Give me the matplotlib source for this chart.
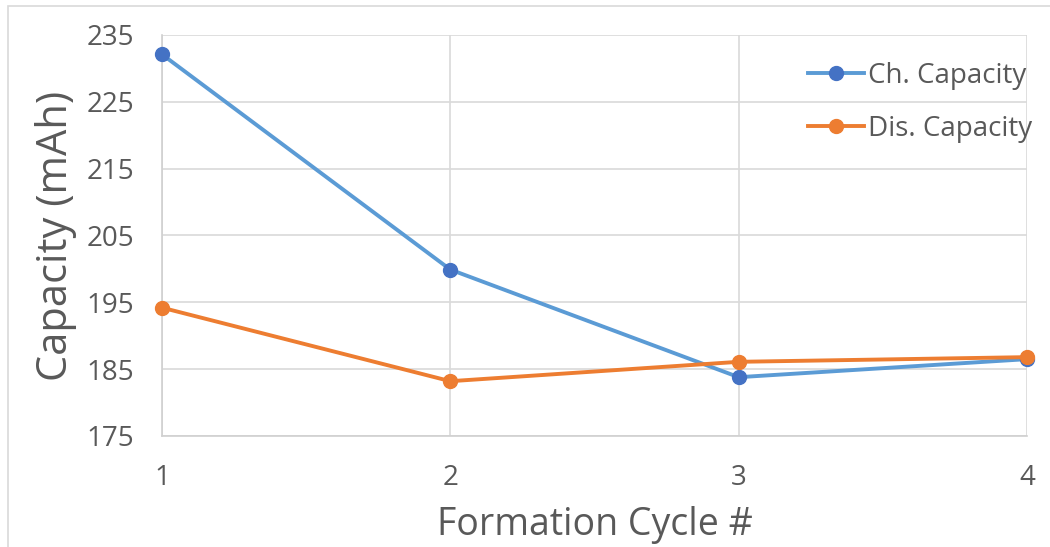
import matplotlib.pyplot as plt
from matplotlib.patches import Rectangle

cycles = [1, 2, 3, 4]
ch_capacity = [232.1, 199.9, 183.8, 186.5]
dis_capacity = [194.2, 183.2, 186.1, 186.8]
yticks = [175, 185, 195, 205, 215, 225, 235]

plt.rcParams['font.family'] = ['Open Sans', 'DejaVu Sans']
grey = '#595959'

fig = plt.figure(figsize=(10.5, 5.47), dpi=100)
ax = fig.add_axes([162 / 1050, 1 - 436 / 547, (1027 - 162) / 1050, (436 - 35) / 547])

# outer chart frame
fig.patches.append(Rectangle((8 / 1050, -0.01), 1.1, 1 - 6 / 547 + 0.01,
                             transform=fig.transFigure, fill=False,
                             edgecolor='#d9d9d9', linewidth=1.2))

ax.plot(cycles, ch_capacity, color='#5B9BD5', linewidth=2.8, marker='o',
        markersize=10, markerfacecolor='#4472C4', markeredgecolor='#4472C4',
        label='Ch. Capacity', clip_on=False, zorder=3)
ax.plot(cycles, dis_capacity, color='#ED7D31', linewidth=2.8, marker='o',
        markersize=10, markerfacecolor='#ED7D31', markeredgecolor='#ED7D31',
        label='Dis. Capacity', clip_on=False, zorder=4)

ax.set_xlim(1, 4)
ax.set_ylim(175, 235)
ax.set_xticks(cycles)
ax.set_yticks(yticks)
ax.grid(True, color='#d9d9d9', linewidth=1.2)
ax.set_axisbelow(True)
for side in ['top', 'right']:
    ax.spines[side].set_visible(False)
for side in ['left', 'bottom']:
    ax.spines[side].set_color('#d0d0d0')
    ax.spines[side].set_linewidth(1.2)
ax.tick_params(length=0, labelsize=20, colors=grey)
ax.tick_params(axis='x', pad=20)
ax.tick_params(axis='y', pad=20)

ax.set_xlabel('Formation Cycle #', fontsize=27, color=grey, labelpad=10)
ax.set_ylabel('Capacity (mAh)', fontsize=30, color=grey, labelpad=7)

leg = ax.legend(loc='upper right', bbox_to_anchor=(1.035, 0.995), frameon=False,
                fontsize=20, labelcolor=grey, handlelength=2.0,
                labelspacing=0.9, handletextpad=0.15)

fig.savefig('out.png', dpi=100)
